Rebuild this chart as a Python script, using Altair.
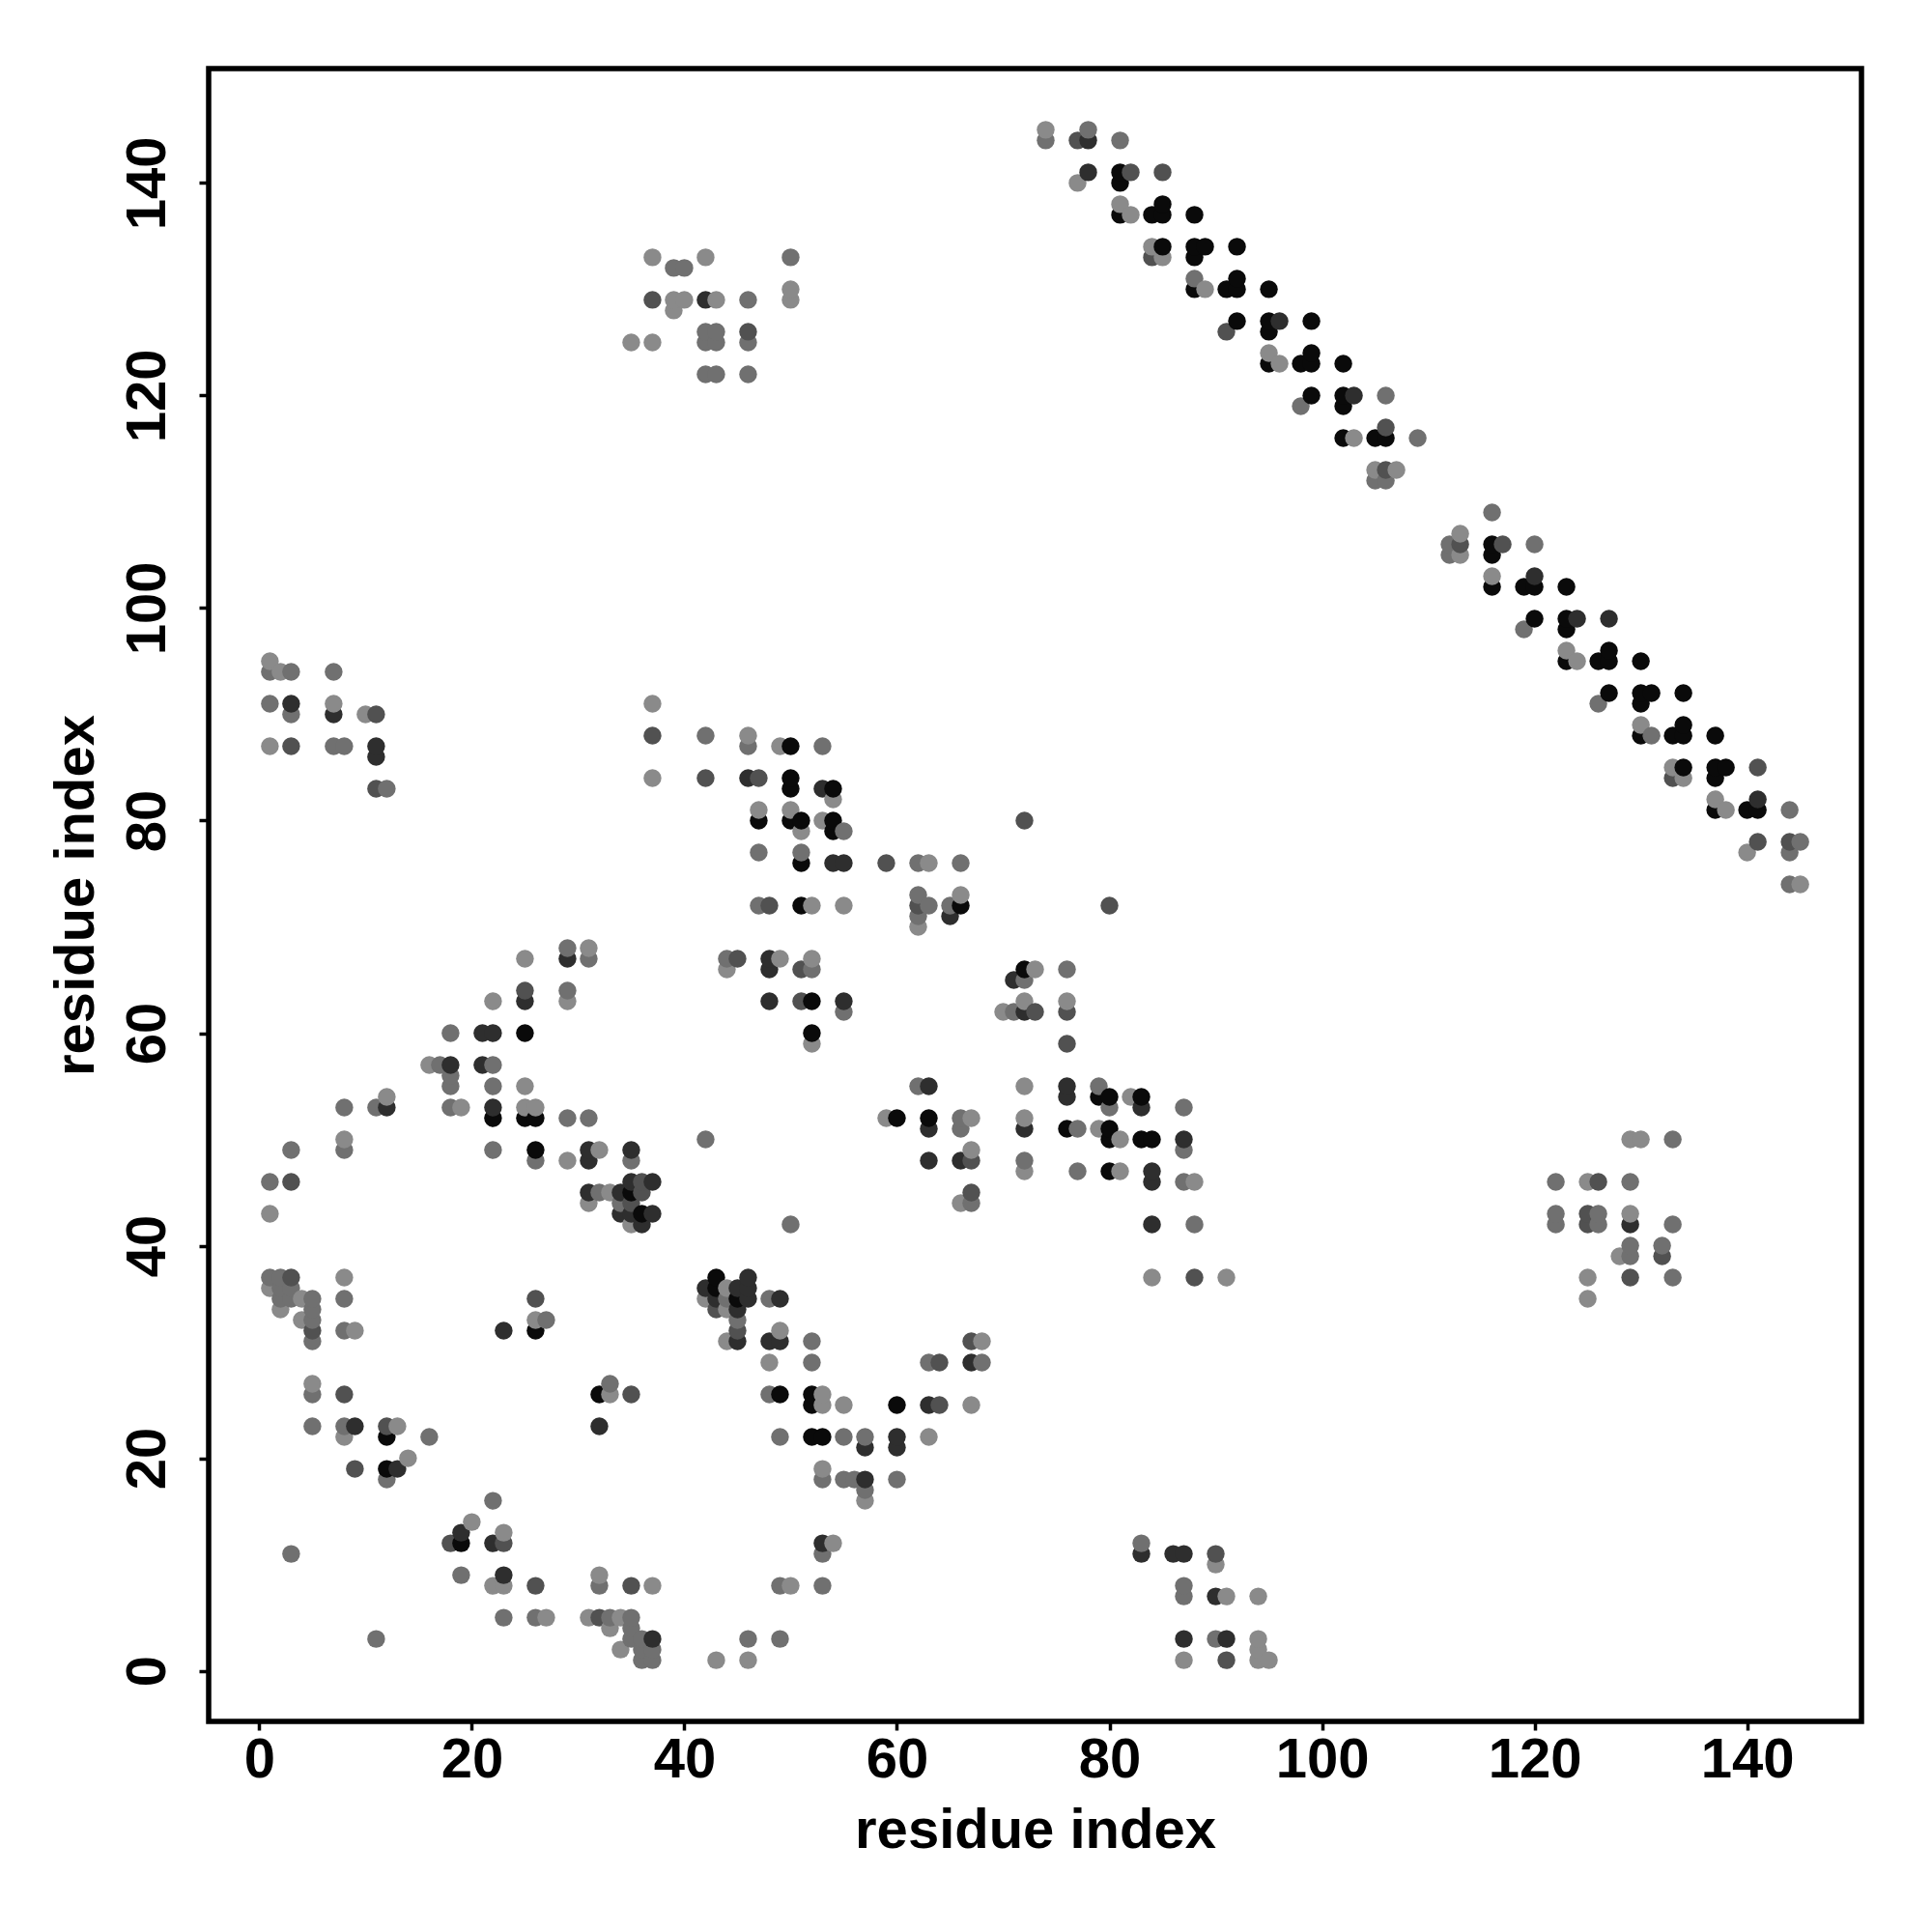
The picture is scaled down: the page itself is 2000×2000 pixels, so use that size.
import altair as alt
import pandas as pd

# (residue i, residue j, shade class 0=black .. 4=light gray)
band_upper = [
    (74,145,4),(74,144,3),(77,144,2),(78,145,3),(78,144,1),(81,144,3),
    (78,141,1),(77,140,4),(81,141,0),(81,140,0),(82,141,2),(85,141,2),
    (81,138,4),(81,137,0),(82,137,4),(84,137,0),(85,138,0),(85,137,0),(88,137,0),
    (84,134,4),(84,133,2),(85,134,0),(85,133,4),(88,134,0),(88,133,0),(89,134,0),(92,134,0),
    (88,131,3),(88,130,0),(89,130,4),(91,130,0),(92,131,0),(92,130,0),(95,130,0),
    (92,127,0),(91,126,2),(95,127,0),(95,126,0),(96,127,1),(99,127,0),
    (95,124,4),(95,123,0),(96,123,4),(98,123,0),(99,124,0),(99,123,0),(102,123,0),
    (99,120,0),(98,119,3),(102,120,0),(102,119,0),(103,120,1),(106,120,3),
    (102,116,0),(103,116,4),(105,116,0),(106,117,2),(106,116,0),(109,116,3),
    (105,113,4),(106,113,2),(107,113,4),(105,112,3),(106,112,3),
    (116,109,3),(113,107,4),(112,106,3),(113,106,2),(112,105,3),(113,105,4),
    (116,106,0),(117,106,2),(116,105,0),(120,106,3),
    (116,103,4),(116,102,0),(119,102,0),(120,103,1),(120,102,0),(123,102,0),
    (120,99,0),(119,98,3),(123,99,0),(123,98,0),(124,99,1),(127,99,1),
    (123,96,4),(124,95,4),(123,95,0),(126,95,0),(127,96,0),(127,95,0),(130,95,0),
    (127,92,0),(126,91,3),(130,92,0),(130,91,0),(131,92,0),(134,92,0),
    (130,89,4),(130,88,0),(131,88,3),(133,88,0),(134,89,0),(134,88,0),(137,88,0),
    (133,85,4),(133,84,2),(134,85,0),(134,84,4),(137,85,0),(137,84,0),(138,85,0),(141,85,2),
    (137,82,4),(137,81,0),(138,81,4),(140,81,0),(141,82,1),(141,81,0),(144,81,3),
    (141,78,2),(140,77,4),(144,78,2),(144,77,3),(145,78,3),(144,74,3),(145,74,4),
]

cluster_top = [
    (37,133,4),(39,132,3),(40,132,3),(42,133,4),(50,133,3),
    (37,129,2),(39,129,4),(40,129,4),(42,129,1),(43,129,4),(46,129,3),(50,130,4),(50,129,4),
    (39,128,4),(42,126,3),(43,126,3),(46,126,2),
    (35,125,4),(37,125,4),(42,125,3),(43,125,3),(46,125,3),
    (42,122,3),(43,122,3),(46,122,3),
]

cluster_left_high = [
    (1,95,4),(1,94,3),(2,94,4),(3,94,3),(7,94,3),
    (1,91,3),(3,91,1),(3,90,3),(7,91,4),(7,90,1),(10,90,4),(11,90,2),
    (1,87,4),(3,87,2),(7,87,3),(8,87,3),(11,87,1),(11,86,1),(11,83,2),(12,83,3),
]

cluster_mid = [
    (37,91,4),(37,88,2),(37,84,4),(42,88,3),(42,84,2),
    (46,88,4),(46,87,3),(46,84,1),(47,84,2),(49,87,4),(50,87,0),(53,87,3),
    (50,84,0),(50,83,0),(53,83,1),(54,83,0),(54,82,4),
    (47,81,4),(47,80,0),(50,81,4),(50,80,0),(51,80,0),(51,79,4),
    (53,80,4),(54,80,0),(54,79,0),(55,79,3),
    (47,77,3),(51,77,3),(51,76,0),(54,76,1),(55,76,1),
    (47,72,3),(48,72,2),(51,72,0),(52,72,4),(55,72,4),
    (44,67,3),(44,66,4),(45,67,2),(48,67,1),(48,66,1),(49,67,4),(51,66,2),(52,67,4),(52,66,3),
    (48,63,1),(51,63,2),(52,63,0),(55,63,1),(55,62,3),(52,60,0),(52,59,4),
]

cluster_mid_right = [
    (59,76,2),(62,76,3),(63,76,4),(66,76,3),(72,80,2),
    (62,73,3),(62,72,2),(63,72,3),(62,71,3),(62,70,4),(65,72,3),(65,71,1),(66,73,4),(66,72,0),(80,72,2),
    (72,66,0),(73,66,4),(71,65,1),(72,65,3),(76,66,3),
    (72,63,4),(70,62,4),(71,62,3),(72,62,1),(73,62,2),(76,63,4),(76,62,2),(76,59,2),
]

cluster_left_diag = [
    (25,67,4),(29,68,3),(29,67,1),(31,68,4),(31,67,3),
    (25,64,2),(25,63,1),(29,64,3),(29,63,4),(22,63,4),
    (18,60,3),(21,60,1),(22,60,1),(25,60,0),
    (16,57,4),(17,57,3),(18,57,1),(18,56,3),(18,55,3),(21,57,1),(22,57,3),(22,55,3),(25,55,4),
    (18,53,3),(19,53,4),(22,53,1),(22,52,0),(25,53,4),(26,53,4),(25,52,0),(26,52,0),(29,52,3),(31,52,3),
    (22,49,3),(26,49,0),(26,48,3),(29,48,4),(31,49,1),(31,48,1),(32,49,4),(35,49,1),(35,48,3),
]

cluster_left_low = [
    (8,53,3),(11,53,3),(12,53,1),(12,54,4),(8,50,4),(8,49,3),(3,49,3),(1,46,3),(3,46,2),(1,43,4),
]

cluster_knot = [
    (31,45,1),(32,45,3),(33,45,4),(31,44,4),(34,45,1),(35,46,1),(35,45,0),(36,46,2),(36,45,2),(37,46,1),
    (34,44,3),(35,44,2),(34,43,1),(35,43,1),(36,43,0),(37,43,1),(35,42,4),(36,42,1),(42,50,3),
]

cluster_corner = [
    (1,37,3),(2,37,3),(3,37,2),(1,36,4),(2,36,3),(3,36,3),
    (2,35,3),(3,35,3),(4,35,4),(5,35,3),(2,34,4),(4,33,4),(5,34,3),(5,33,3),(5,32,2),(5,31,3),
    (8,37,4),(8,35,3),(8,32,3),(9,32,4),
    (5,27,4),(5,26,3),(8,26,2),
    (5,23,3),(8,23,3),(8,22,4),(9,23,1),(12,23,2),(13,23,4),(12,22,0),(16,22,3),
    (9,19,2),(12,19,0),(13,19,1),(12,18,3),(14,20,4),(3,11,3),(11,3,3),
]

cluster_bottom_left = [
    (26,35,2),(26,33,4),(27,33,3),(26,32,0),(23,32,1),
    (32,26,0),(33,27,3),(33,26,4),(35,26,2),(32,23,1),
    (22,16,3),(20,14,4),(19,13,1),(19,12,0),(18,12,2),(22,12,1),(23,13,4),(23,12,2),
    (19,9,3),(23,9,1),(22,8,4),(23,8,4),(26,8,2),(32,9,4),(32,8,3),(35,8,2),(37,8,4),
    (23,5,3),(26,5,3),(27,5,4),(31,5,4),(32,5,2),(33,5,3),(34,5,4),(35,5,3),
    (33,4,4),(35,4,3),(35,3,3),(36,3,3),(37,3,1),(34,2,4),(36,2,3),(37,2,3),(36,1,3),(37,1,3),
]

cluster_bottom_mid = [
    (43,37,0),(46,37,1),(42,36,1),(43,36,0),(44,36,4),(45,36,1),(46,36,1),
    (42,35,4),(43,35,1),(44,35,3),(45,35,0),(46,35,1),(48,35,3),(49,35,1),
    (43,34,2),(44,34,4),(45,34,1),(45,33,3),(45,32,2),(49,32,4),(44,31,4),(45,31,1),(48,31,1),(49,31,1),(52,31,3),
    (48,29,4),(52,29,3),(63,29,3),(64,29,2),(67,31,2),(68,31,4),(67,29,1),(68,29,3),
    (48,26,3),(49,26,0),(52,26,0),(52,25,0),(53,26,4),(53,25,4),(55,25,4),(60,25,0),(63,25,1),(64,25,2),(67,25,4),
    (49,22,3),(52,22,0),(53,22,0),(55,22,3),(57,22,3),(57,21,1),(60,22,1),(60,21,1),(63,22,4),
    (53,19,4),(53,18,3),(55,18,3),(56,18,3),(57,18,1),(57,17,3),(57,16,4),(60,18,3),
    (53,12,1),(53,11,3),(54,12,4),(49,8,3),(50,8,4),(53,8,3),
    (43,1,4),(46,3,3),(46,1,4),(49,3,3),
]

cluster_center = [
    (62,55,3),(63,55,1),(72,55,4),(76,55,1),(76,54,1),
    (79,55,3),(79,54,0),(80,54,0),(80,53,3),(82,54,4),(83,54,0),(83,53,1),(87,53,3),
    (59,52,4),(60,52,0),(63,52,0),(63,51,1),(66,52,3),(67,52,4),(66,51,3),
    (72,52,4),(72,51,1),(76,51,0),(77,51,3),(79,51,4),(80,51,0),(80,50,0),(81,50,4),
    (83,50,0),(84,50,0),(87,50,1),(87,49,3),
    (63,48,1),(66,48,1),(67,49,4),(67,48,2),(72,48,3),(72,47,4),(77,47,3),(80,47,0),(81,47,4),(84,47,1),
    (84,46,1),(87,46,3),(88,46,4),(67,45,2),(66,44,4),(67,44,3),
    (50,42,3),(84,42,1),(88,42,3),(84,37,4),(88,37,2),(91,37,4),
]

cluster_bottom_right = [
    (83,12,3),(83,11,1),(86,11,1),(87,11,1),(90,11,2),(90,10,4),
    (87,8,3),(87,7,3),(90,7,1),(91,7,4),(94,7,4),
    (87,3,1),(87,1,4),(90,3,3),(91,3,1),(91,1,2),(94,3,4),(94,2,4),(94,1,4),(95,1,4),
]

cluster_right = [
    (129,50,4),(130,50,4),(133,50,3),
    (122,46,3),(125,46,4),(126,46,2),(129,46,3),
    (122,43,3),(122,42,3),(125,43,2),(126,43,3),(125,42,2),(126,42,3),
    (129,43,4),(129,42,1),(133,42,3),
    (129,40,3),(128,39,4),(129,39,3),(132,40,3),(132,39,2),
    (125,37,4),(129,37,2),(133,37,3),(125,35,4),
]

shade_levels = [0, 1, 2, 3, 4]
shade_colors = ["#0a0a0a", "#2e2e2e", "#515151", "#707070", "#8a8a8a"]
tick_values = [0, 20, 40, 60, 80, 100, 120, 140]

groups = [band_upper, cluster_top, cluster_left_high, cluster_mid, cluster_mid_right,
          cluster_left_diag, cluster_left_low, cluster_knot, cluster_corner,
          cluster_bottom_left, cluster_bottom_mid, cluster_center,
          cluster_bottom_right, cluster_right]

seen = {}
for g in groups:
    for (i, j, s) in g:
        if (i, j) not in seen:
            seen[(i, j)] = s
rows = [{"i": k[0], "j": k[1], "shade": v} for k, v in seen.items()]
df = pd.DataFrame(rows).sort_values(["i", "j"]).reset_index(drop=True)

W = 1711
H = 1711
dom = [-4.76, 150.76]
font = "Liberation Sans"

chart = alt.Chart(df).mark_point(
    filled=True, shape="circle", size=340, opacity=1, strokeWidth=0
).encode(
    x=alt.X("i:Q", scale=alt.Scale(domain=dom, nice=False, zero=False),
            axis=alt.Axis(values=tick_values, title="residue index", grid=False, domain=False,
                          ticks=True, tickSize=9, tickWidth=3.5, tickColor="black",
                          labelFont=font, labelFontWeight="bold", labelFontSize=58,
                          labelColor="black", labelPadding=2, labelFlush=False,
                          labelOverlap=False,
                          titleFont=font, titleFontWeight="bold", titleFontSize=58,
                          titleColor="black", titleX=W / 2, titleY=130,
                          titleAlign="center", titleBaseline="alphabetic")),
    y=alt.Y("j:Q", scale=alt.Scale(domain=dom, nice=False, zero=False),
            axis=alt.Axis(values=tick_values, title="residue index", grid=False, domain=False,
                          ticks=True, tickSize=10, tickWidth=3.5, tickColor="black",
                          labelFont=font, labelFontWeight="bold", labelFontSize=58,
                          labelColor="black", labelPadding=35.5, labelFlush=False,
                          labelOverlap=False, labelAngle=270, labelAlign="center",
                          labelBaseline="alphabetic",
                          titleFont=font, titleFontWeight="bold", titleFontSize=58,
                          titleColor="black", titleAngle=270, titleX=-120, titleY=H / 2,
                          titleAlign="center", titleBaseline="alphabetic")),
    color=alt.Color("shade:O", scale=alt.Scale(domain=shade_levels, range=shade_colors), legend=None),
).properties(
    width=W, height=H,
    padding={"left": 208, "top": 63, "right": 40, "bottom": 200},
    autosize=alt.AutoSizeParams(type="none"),
    background="white",
).configure_view(
    stroke="black", strokeWidth=5.5, fill="white"
)

chart.save("out.html", embed_options={"renderer": "svg", "actions": False})
